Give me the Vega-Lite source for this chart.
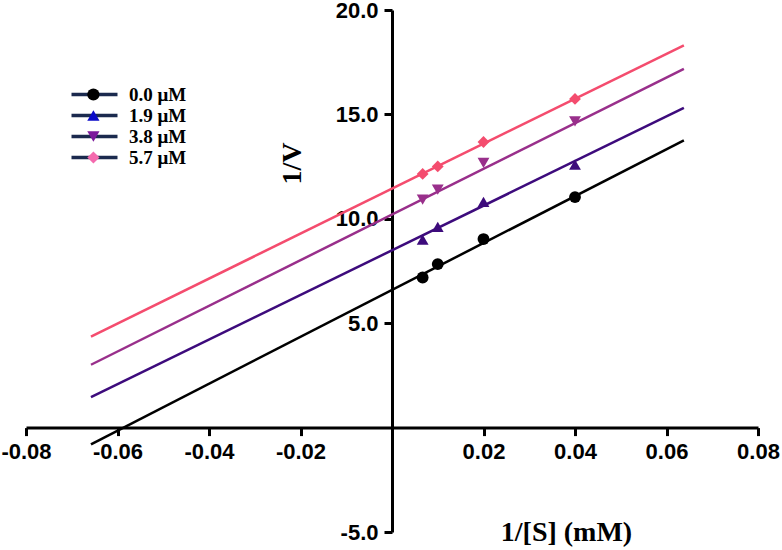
{
  "$schema": "https://vega.github.io/schema/vega-lite/v6.json",
  "width": 732,
  "height": 522,
  "autosize": "none",
  "padding": {"left": 26, "top": 10, "right": 24, "bottom": 18},
  "background": "white",
  "config": {
    "view": {"stroke": null},
    "locale": {"number": {"decimal": ".", "thousands": ",", "grouping": [3], "currency": ["$", ""], "minus": "-"}},
    "axis": {
      "grid": false,
      "domainColor": "black",
      "domainWidth": 3,
      "tickColor": "black",
      "tickWidth": 3,
      "tickSize": 8,
      "labelFont": "Liberation Sans",
      "labelFontWeight": "bold",
      "labelFontSize": 22,
      "labelColor": "black",
      "labelPadding": 6,
      "labelFlush": false,
      "labelOverlap": false,
      "labelBound": false,
      "titleFont": "Liberation Serif",
      "titleFontWeight": "bold",
      "titleFontSize": 28,
      "titleColor": "black"
    },
    "legend": {
      "orient": "none",
      "title": null,
      "padding": 0,
      "rowPadding": 1,
      "labelFont": "Liberation Serif",
      "labelFontWeight": "bold",
      "labelFontSize": 19,
      "labelColor": "black",
      "symbolOpacity": 1
    }
  },
  "datasets": {
    "lines": [
      {"conc": "0.0 μM", "x": -0.0658, "y": -0.80},
      {"conc": "0.0 μM", "x": 0.0638, "y": 13.76},
      {"conc": "1.9 μM", "x": -0.0658, "y": 1.46},
      {"conc": "1.9 μM", "x": 0.0638, "y": 15.31},
      {"conc": "3.8 μM", "x": -0.0658, "y": 3.01},
      {"conc": "3.8 μM", "x": 0.0638, "y": 17.18},
      {"conc": "5.7 μM", "x": -0.0658, "y": 4.36},
      {"conc": "5.7 μM", "x": 0.0638, "y": 18.31}
    ],
    "points": [
      {"conc": "0.0 μM", "x": 0.0067, "y": 7.19},
      {"conc": "0.0 μM", "x": 0.01, "y": 7.83},
      {"conc": "0.0 μM", "x": 0.02, "y": 9.03},
      {"conc": "0.0 μM", "x": 0.04, "y": 11.04},
      {"conc": "1.9 μM", "x": 0.0067, "y": 9.0},
      {"conc": "1.9 μM", "x": 0.01, "y": 9.61},
      {"conc": "1.9 μM", "x": 0.02, "y": 10.81},
      {"conc": "1.9 μM", "x": 0.04, "y": 12.6},
      {"conc": "3.8 μM", "x": 0.0067, "y": 10.92},
      {"conc": "3.8 μM", "x": 0.01, "y": 11.4},
      {"conc": "3.8 μM", "x": 0.02, "y": 12.68},
      {"conc": "3.8 μM", "x": 0.04, "y": 14.67},
      {"conc": "5.7 μM", "x": 0.0067, "y": 12.15},
      {"conc": "5.7 μM", "x": 0.01, "y": 12.51},
      {"conc": "5.7 μM", "x": 0.02, "y": 13.68},
      {"conc": "5.7 μM", "x": 0.04, "y": 15.74}
    ]
  },
  "encoding": {
    "x": {
      "field": "x",
      "type": "quantitative",
      "scale": {"domain": [-0.08, 0.08], "nice": false, "zero": false},
      "axis": {
        "orient": "bottom",
        "offset": -104.4,
        "values": [-0.08, -0.06, -0.04, -0.02, 0.02, 0.04, 0.06, 0.08],
        "format": ".2f",
        "title": "1/[S] (mM)",
        "titleX": 540,
        "titleY": 112.7,
        "titleAlign": "center",
        "titleBaseline": "alphabetic",
        "titleAngle": 0
      }
    },
    "y": {
      "field": "y",
      "type": "quantitative",
      "scale": {"domain": [-5, 20], "nice": false, "zero": false},
      "axis": {
        "orient": "left",
        "offset": -366,
        "values": [-5, 5, 10, 15, 20],
        "format": ".1f",
        "title": "1/V",
        "titleX": -100,
        "titleY": 153,
        "titleAngle": 270,
        "titleAlign": "center",
        "titleBaseline": "middle"
      }
    }
  },
  "resolve": {"scale": {"fill": "independent", "shape": "independent"}},
  "layer": [
    {
      "data": {"name": "lines"},
      "mark": {"type": "line", "strokeWidth": 2.5},
      "encoding": {
        "stroke": {
          "field": "conc",
          "type": "nominal",
          "scale": {
            "domain": ["0.0 μM", "1.9 μM", "3.8 μM", "5.7 μM"],
            "range": ["#000000", "#3d0b7c", "#992f8b", "#f44c6e"]
          },
          "legend": null
        }
      }
    },
    {
      "data": {"name": "lines"},
      "mark": {"type": "line", "stroke": "#1b2a4e", "strokeWidth": 3.5, "opacity": 0},
      "encoding": {
        "strokeDash": {
          "field": "conc",
          "type": "nominal",
          "scale": {
            "domain": ["5.7 μM", "3.8 μM", "1.9 μM", "0.0 μM"],
            "range": [[1, 0], [1, 0], [1, 0], [1, 0]]
          },
          "legend": {
            "legendX": 59,
            "legendY": 75,
            "symbolType": "M-4.6,0H4.6",
            "symbolSize": 100,
            "symbolStrokeWidth": 3.5,
            "symbolStrokeColor": "#1b2a4e",
            "labelExpr": "''"
          }
        }
      }
    },
    {
      "data": {"name": "points"},
      "mark": {"type": "point", "filled": true, "size": 140, "opacity": 1},
      "encoding": {
        "fill": {
          "field": "conc",
          "type": "nominal",
          "scale": {
            "domain": ["0.0 μM", "1.9 μM", "3.8 μM", "5.7 μM"],
            "range": ["#000000", "#3d0b7c", "#992f8b", "#f44c6e"]
          },
          "legend": null
        },
        "shape": {
          "field": "conc",
          "type": "nominal",
          "scale": {
            "domain": ["0.0 μM", "1.9 μM", "3.8 μM", "5.7 μM"],
            "range": ["circle", "triangle-up", "triangle-down", "diamond"]
          },
          "legend": null
        }
      }
    },
    {
      "data": {"name": "points"},
      "mark": {"type": "point", "filled": true, "size": 150, "opacity": 0},
      "encoding": {
        "fill": {
          "field": "conc",
          "type": "nominal",
          "scale": {
            "domain": ["0.0 μM", "1.9 μM", "3.8 μM", "5.7 μM"],
            "range": ["#000000", "#0b0bc8", "#7c1a9c", "#f46aae"]
          },
          "legend": {
            "legendX": 57.9,
            "legendY": 75,
            "symbolSize": 150,
            "symbolStrokeWidth": 0,
            "labelOffset": 26,
            "labelExpr": "datum.label == '0.0 μM' ? '\u00a0\u00a00.0 μM' : datum.label"
          }
        },
        "shape": {
          "field": "conc",
          "type": "nominal",
          "scale": {
            "domain": ["0.0 μM", "1.9 μM", "3.8 μM", "5.7 μM"],
            "range": ["circle", "triangle-up", "triangle-down", "diamond"]
          },
          "legend": {
            "legendX": 57.9,
            "legendY": 75,
            "symbolSize": 150,
            "symbolStrokeWidth": 0,
            "labelOffset": 26,
            "labelExpr": "datum.label == '0.0 μM' ? '\u00a0\u00a00.0 μM' : datum.label"
          }
        }
      }
    }
  ]
}
